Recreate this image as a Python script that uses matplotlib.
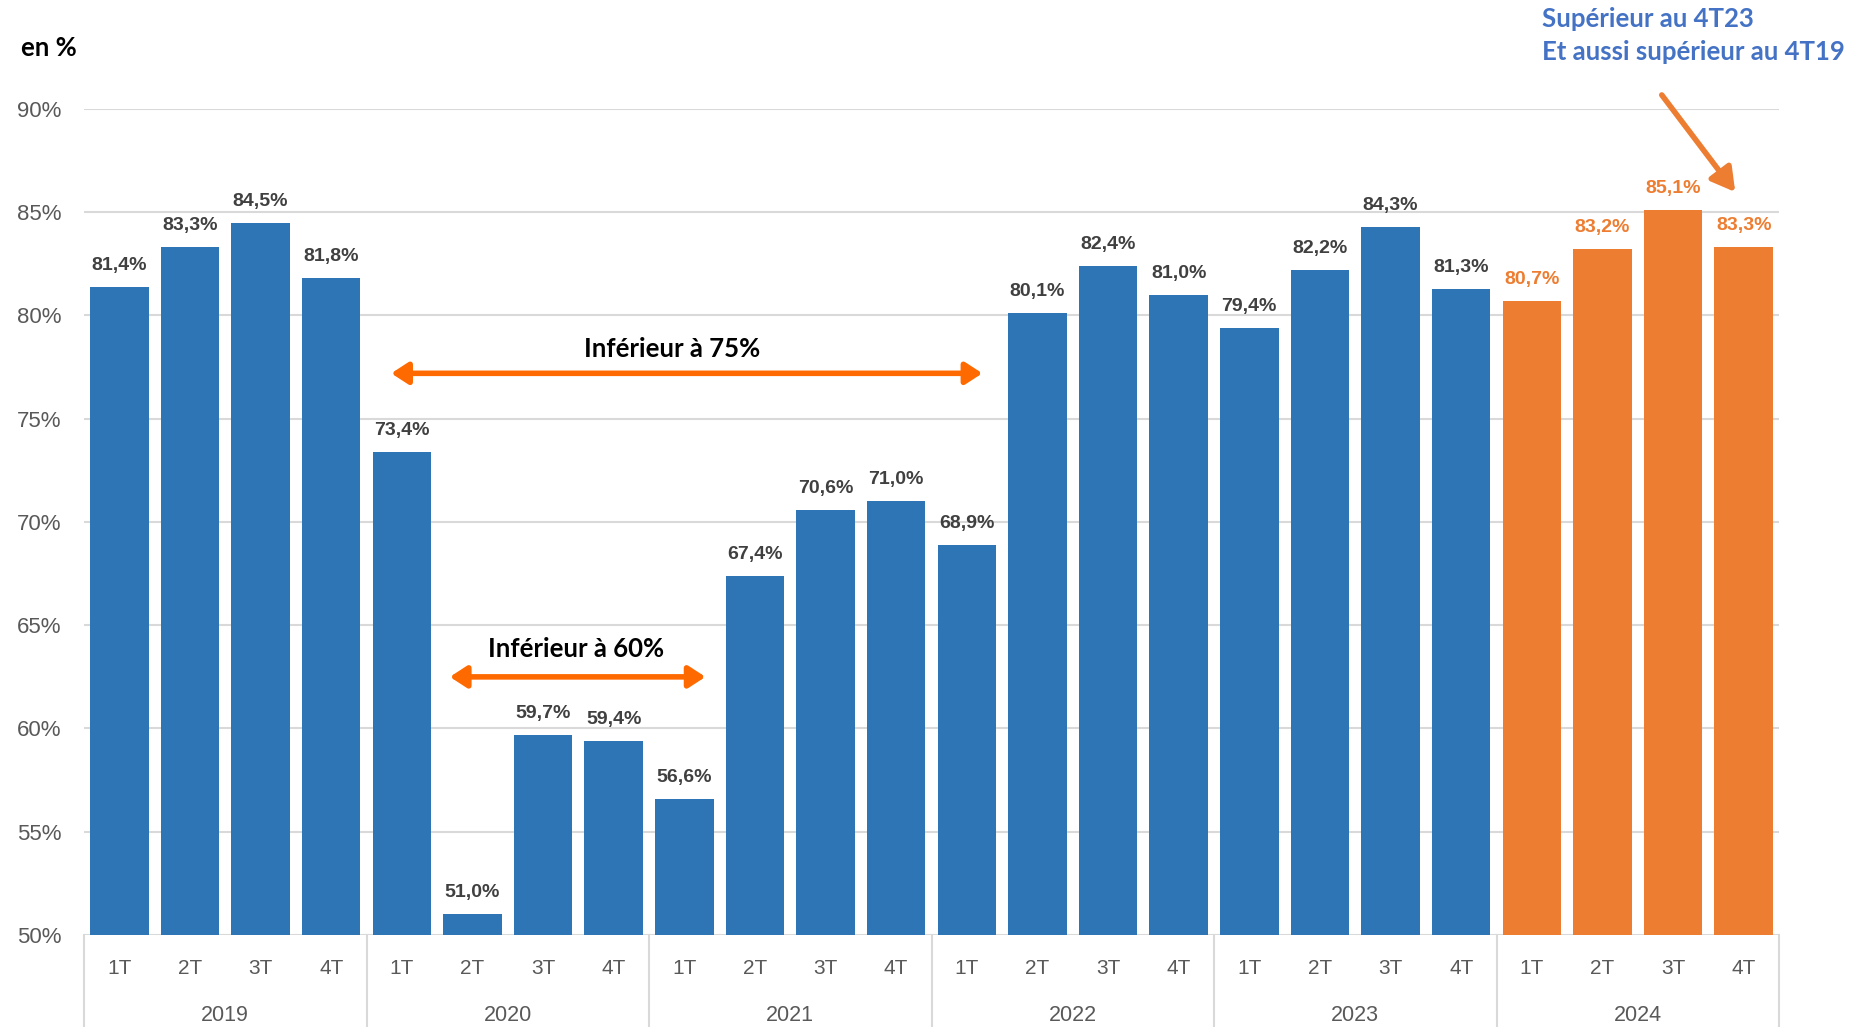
import matplotlib
matplotlib.use("Agg")
import matplotlib.pyplot as plt
from matplotlib.patches import FancyArrowPatch
import numpy as np

years = ["2019", "2020", "2021", "2022", "2023", "2024"]
quarters = ["1T", "2T", "3T", "4T"]
values = [81.4, 83.3, 84.5, 81.8,
          73.4, 51.0, 59.7, 59.4,
          56.6, 67.4, 70.6, 71.0,
          68.9, 80.1, 82.4, 81.0,
          79.4, 82.2, 84.3, 81.3,
          80.7, 83.2, 85.1, 83.3]
yticks = [50, 55, 60, 65, 70, 75, 80, 85, 90]

BLUE = "#2E75B6"
ORANGE = "#ED7D31"
BRIGHT_OR = "#FF6A00"
GRID = "#D9D9D9"
TXT = "#595959"
LBL = "#404040"

W, H = 1873, 1027
fig = plt.figure(figsize=(W / 100, H / 100), dpi=100)
ax = fig.add_axes([84 / W, 1 - 935 / H, (1779 - 84) / W, (935 - 109) / H])

n = len(values)
x = np.arange(n)
colors = [ORANGE if i >= 20 else BLUE for i in range(n)]
ax.bar(x, [v - 50 for v in values], bottom=50, width=0.83, color=colors, zorder=3)
ax.set_xlim(-0.5, n - 0.5)
ax.set_ylim(50, 90)

for s in ax.spines.values():
    s.set_visible(False)
ax.set_yticks(yticks)
ax.set_yticklabels([f"{t}%" for t in yticks], fontsize=16, color=TXT, family="Liberation Sans")
ax.tick_params(axis="y", length=0, pad=16)
ax.set_xticks([])
ax.grid(axis="y", color=GRID, lw=1.5, zorder=0)

# value labels
for i, v in enumerate(values):
    c = ORANGE if i >= 20 else LBL
    ax.annotate(f"{v:.1f}%".replace(".", ","), (i, v), xytext=(0, 15.5),
                textcoords="offset points", ha="center", va="center",
                fontsize=14, fontweight="bold", color=c, family="Liberation Sans")

# category axis
trans = ax.get_xaxis_transform()
for b in range(0, n + 1, 4):
    ax.plot([b - 0.5, b - 0.5], [0, -0.115], transform=trans, color=GRID, lw=1.5,
            clip_on=False)
for i in range(n):
    ax.text(i, -0.0405, quarters[i % 4], transform=trans, ha="center", va="center",
            fontsize=15, color=TXT, family=["Liberation Sans Narrow", "Liberation Sans"])
for k, yr in enumerate(years):
    ax.text(4 * k + 1.5, -0.0975, yr, transform=trans, ha="center", va="center",
            fontsize=15.5, color=TXT, family=["Liberation Sans Narrow", "Liberation Sans"])

# annotation arrows
def darrow(x0, x1, y):
    a = FancyArrowPatch((x0, y), (x1, y), arrowstyle="<|-|>,head_length=10,head_width=6.5",
                        color=BRIGHT_OR, lw=4, mutation_scale=1, zorder=5,
                        shrinkA=0, shrinkB=0)
    ax.add_patch(a)

darrow(3.85, 12.22, 77.2)
ax.text(7.83, 78.4, "Inférieur à 75%", ha="center", va="center", fontsize=18.5,
        fontweight="bold", color="black", family="Lato")
darrow(4.68, 8.3, 62.5)
ax.text(6.47, 63.85, "Inférieur à 60%", ha="center", va="center", fontsize=18.5,
        fontweight="bold", color="black", family="Lato")

a = FancyArrowPatch((21.84, 90.68), (22.88, 85.98), arrowstyle="-|>,head_length=14,head_width=8",
                    color=ORANGE, lw=4, mutation_scale=1, clip_on=False, zorder=5,
                    shrinkA=0, shrinkB=0)
ax.add_patch(a)

fig.text(1542 / W, 1 - 19 / H, "Supérieur au 4T23", ha="left", va="center",
         fontsize=18.5, fontweight="bold", color="#4472C4", family="Lato")
fig.text(1542 / W, 1 - 52 / H, "Et aussi supérieur au 4T19", ha="left", va="center",
         fontsize=18.5, fontweight="bold", color="#4472C4", family="Lato")
fig.text(21 / W, 1 - 48 / H, "en %", ha="left", va="center", fontsize=18.5,
         fontweight="bold", color="black", family="Lato")

fig.savefig("out.png", dpi=100)
